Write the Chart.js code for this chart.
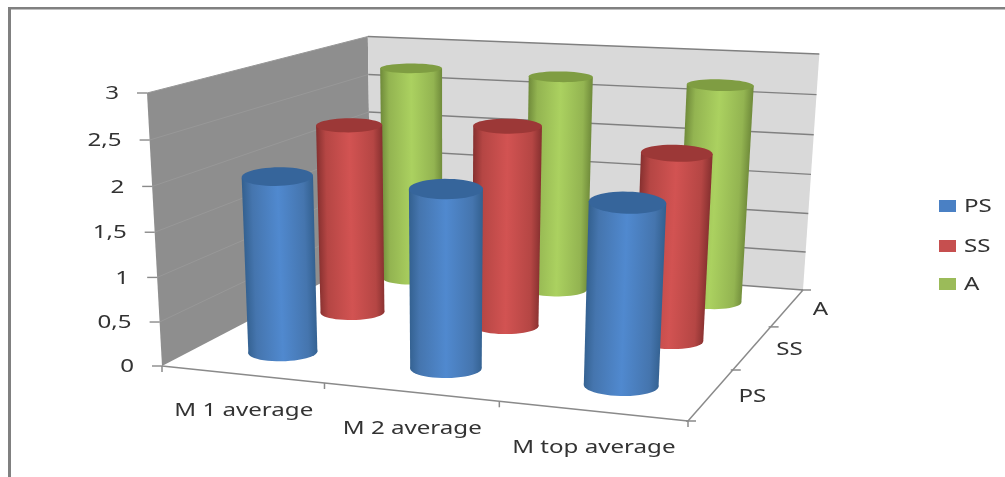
<!DOCTYPE html>
<html>
<head>
<meta charset="utf-8">
<style>
  html, body { margin: 0; padding: 0; background: #fff; }
  canvas { display: block; }
</style>
<script src="https://cdn.jsdelivr.net/npm/chart.js@4/dist/chart.umd.min.js"></script>
</head>
<body>
<canvas id="chart" width="1005" height="477"></canvas>
<script>
const categories = ['M 1 average', 'M 2 average', 'M top average'];
const seriesNames = ['PS', 'SS', 'A'];
const psValues = [2, 2, 2];
const ssValues = [2.27, 2.37, 2.18];
const aValues = [2.72, 2.7, 2.69];
const yMax = 3;
const yStep = 0.5;

// body colours per series: edge, mid, centre, cap
const SHADES = {
  PS: { edge: '#33608f', mid: '#4575ae', light: '#5089cf', cap: '#36659b', key: '#4a80c4' },
  SS: { edge: '#86302f', mid: '#b54644', light: '#d25352', cap: '#9c3837', key: '#c64f4f' },
  A:  { edge: '#6f8a3a', mid: '#93b451', light: '#abd160', cap: '#7f9d42', key: '#9bbb59' }
};

// floor corners on screen, heights of the full value range at each corner
const FLOOR = { x0: 162, y0: 366, x1: 688, y1: 421, x2: 803, y2: 290, x3: 371, y3: 257 };
const WALL_H = { h00: 273, h10: 290, h01: 220.5, h11: 236 };
const TOP_X = 147;
const PERSP_Z = -0.05;
const SAG_Z = 0.04;
const RADIUS = 0.066;
const CAP_OPEN = 1.4;
const U_SHIFT = 0.004;

const LABEL_FONT = '18px "Noto Sans"';
const TEXT_STRETCH = 1.34;
const TEXT_COLOR = '#333333';

function floorMatrix(p) {
  const dx1 = p.x1 - p.x2, dx2 = p.x3 - p.x2, sx = p.x0 - p.x1 + p.x2 - p.x3;
  const dy1 = p.y1 - p.y2, dy2 = p.y3 - p.y2, sy = p.y0 - p.y1 + p.y2 - p.y3;
  const den = dx1 * dy2 - dx2 * dy1;
  const g = (sx * dy2 - dx2 * sy) / den;
  const h = (dx1 * sy - sx * dy1) / den;
  return {
    a: p.x1 - p.x0 + g * p.x1, b: p.x3 - p.x0 + h * p.x3, c: p.x0,
    d: p.y1 - p.y0 + g * p.y1, e: p.y3 - p.y0 + h * p.y3, f: p.y0,
    g, h
  };
}

const M = floorMatrix(FLOOR);
const CX = TOP_X * (1 + PERSP_Z) - FLOOR.x0;

// u runs along the categories, v runs towards the back wall, z is the value fraction
function project(u, v, z) {
  const w = M.g * u + M.h * v + 1;
  const x = (M.a * u + M.b * v + M.c + CX * z) / (w + PERSP_Z * z);
  const fy = (M.d * u + M.e * v + M.f) / w;
  const hgt = (1 - u) * (1 - v) * WALL_H.h00 + u * (1 - v) * WALL_H.h10 +
    (1 - u) * v * WALL_H.h01 + u * v * WALL_H.h11;
  // lower values sit a little closer together on the vertical axis
  return { x, y: fy - z * (1 - SAG_Z * (1 - z)) * hgt };
}

function poly(ctx, pts) {
  ctx.beginPath();
  pts.forEach((p, i) => i ? ctx.lineTo(p.x, p.y) : ctx.moveTo(p.x, p.y));
  ctx.closePath();
}

function seg(ctx, a, b) {
  ctx.beginPath();
  ctx.moveTo(a.x, a.y);
  ctx.lineTo(b.x, b.y);
  ctx.stroke();
}

function stretchedText(ctx, str, x, y, align) {
  ctx.save();
  ctx.translate(x, y);
  ctx.scale(TEXT_STRETCH, 1);
  ctx.font = LABEL_FONT;
  ctx.fillStyle = TEXT_COLOR;
  ctx.textAlign = align;
  ctx.textBaseline = 'middle';
  ctx.fillText(str, 0, 0);
  ctx.restore();
}

// outline of a cylinder end; open > 1 makes the ellipse taller without widening it
function ring(u, v, z, open) {
  const mid = project(u, v, z);
  const pts = [];
  for (let i = 0; i < 48; i++) {
    const t = i / 48 * Math.PI * 2;
    const p = project(u + RADIUS * Math.cos(t), v + RADIUS * Math.sin(t), z);
    pts.push({ x: p.x, y: mid.y + (p.y - mid.y) * open });
  }
  return pts;
}

function drawCylinder(ctx, u, v, z, shade) {
  const bottom = ring(u, v, 0, 1);
  const top = ring(u, v, z, CAP_OPEN);
  const minX = pts => pts.reduce((m, p) => p.x < m.x ? p : m);
  const maxX = pts => pts.reduce((m, p) => p.x > m.x ? p : m);
  const bl = minX(bottom), br = maxX(bottom), tl = minX(top), tr = maxX(top);

  // shading runs across the cylinder, square to its leaning axis
  const ax = (tl.x + tr.x - bl.x - br.x) / 2, ay = (tl.y + tr.y - bl.y - br.y) / 2;
  const len = Math.hypot(ax, ay);
  const nx = -ay / len, ny = ax / len;
  const cx = (bl.x + br.x) / 2, cy = (bl.y + br.y) / 2;
  const half = Math.max(br.x - bl.x, tr.x - tl.x) / 2;
  const grad = ctx.createLinearGradient(cx - nx * half, cy - ny * half, cx + nx * half, cy + ny * half);
  grad.addColorStop(0, shade.edge);
  grad.addColorStop(0.14, shade.mid);
  grad.addColorStop(0.5, shade.light);
  grad.addColorStop(0.86, shade.mid);
  grad.addColorStop(1, shade.edge);

  ctx.fillStyle = grad;
  poly(ctx, bottom);
  ctx.fill();
  poly(ctx, [bl, tl, tr, br]);
  ctx.fill();
  ctx.fillStyle = shade.cap;
  poly(ctx, top);
  ctx.fill();
}

const cylinders3d = {
  id: 'cylinders3d',
  beforeDatasetsDraw(chart) {
    const ctx = chart.ctx;
    const xs = chart.scales.x, ds = chart.scales.depth, ys = chart.scales.y;
    const frac = value => ys.getDecimalForPixel(ys.getPixelForValue(value));
    const uAt = i => xs.getDecimalForPixel(xs.getPixelForValue(i));
    const vAt = j => ds.getDecimalForPixel(ds.getPixelForValue(j));

    ctx.save();

    // outer frame
    ctx.fillStyle = '#808080';
    ctx.fillRect(8, 7, 997, 2.5);
    ctx.fillRect(8, 7, 3, 470);

    // walls
    ctx.fillStyle = '#8e8e8e';
    poly(ctx, [project(0, 0, 0), project(0, 0, 1), project(0, 1, 1), project(0, 1, 0)]);
    ctx.fill();
    ctx.fillStyle = '#d9d9d9';
    poly(ctx, [project(0, 1, 0), project(0, 1, 1), project(1, 1, 1), project(1, 1, 0)]);
    ctx.fill();

    // gridlines, ticks and value labels from the y scale
    ys.ticks.forEach(tick => {
      const z = frac(tick.value);
      const front = project(0, 0, z), corner = project(0, 1, z), right = project(1, 1, z);
      if (z > 0) {
        ctx.strokeStyle = '#989898';
        ctx.lineWidth = 1;
        seg(ctx, front, corner);
      }
      ctx.strokeStyle = '#808080';
      ctx.lineWidth = 1.4;
      seg(ctx, corner, right);
      ctx.strokeStyle = '#8a8a8a';
      seg(ctx, { x: front.x - 10, y: front.y }, front);
      stretchedText(ctx, String(tick.value).replace('.', ','), front.x - 28, front.y + 1, 'right');
    });

    // floor edges
    ctx.strokeStyle = '#8a8a8a';
    ctx.lineWidth = 1.5;
    seg(ctx, project(0, 0, 0), project(1, 0, 0));
    seg(ctx, project(1, 0, 0), project(1, 1, 0));

    // tick marks between categories along the front edge
    for (let i = 0; i <= categories.length; i++) {
      const p = project(i / categories.length, 0, 0);
      seg(ctx, p, { x: p.x, y: p.y + 6 });
    }
    // tick marks between series along the side edge
    for (let j = 0; j <= seriesNames.length; j++) {
      const p = project(1, j / seriesNames.length, 0);
      seg(ctx, { x: p.x - 2, y: p.y }, { x: p.x + 8, y: p.y });
    }

    // back row first so nearer cylinders cover it
    for (let j = chart.data.datasets.length - 1; j >= 0; j--) {
      const set = chart.data.datasets[j];
      set.data.forEach((value, i) => {
        drawCylinder(ctx, uAt(i) + U_SHIFT, vAt(j), frac(value), SHADES[set.label]);
      });
    }

    // category and series labels
    categories.forEach((name, i) => {
      const p = project(uAt(i), 0, 0);
      stretchedText(ctx, name, p.x + 2, p.y + 37, 'center');
    });
    seriesNames.forEach((name, j) => {
      const v = vAt(j);
      const p = project(1, v, 0);
      stretchedText(ctx, name, p.x + 43 - 12 * v, p.y + 2, 'center');
    });

    // legend
    const legendTop = [200, 240, 278];
    chart.data.datasets.forEach((set, j) => {
      ctx.fillStyle = SHADES[set.label].key;
      ctx.fillRect(939, legendTop[j], 17, 12);
      stretchedText(ctx, set.label, 964, legendTop[j] + 6.5, 'left');
    });

    ctx.restore();
    return false;
  }
};

new Chart(document.getElementById('chart'), {
  type: 'bar',
  data: {
    labels: categories,
    datasets: [
      { label: seriesNames[0], data: psValues, backgroundColor: SHADES.PS.key },
      { label: seriesNames[1], data: ssValues, backgroundColor: SHADES.SS.key },
      { label: seriesNames[2], data: aValues, backgroundColor: SHADES.A.key }
    ]
  },
  options: {
    responsive: false,
    animation: false,
    layout: { padding: { left: FLOOR.x0, right: 1005 - FLOOR.x1, top: 93, bottom: 477 - FLOOR.y0 } },
    plugins: { legend: { display: false }, tooltip: { enabled: false } },
    scales: {
      x: { type: 'category', offset: true, display: false },
      depth: { type: 'category', axis: 'x', labels: seriesNames, offset: true, display: false },
      y: { min: 0, max: yMax, display: false, ticks: { stepSize: yStep, autoSkip: false } }
    }
  },
  plugins: [cylinders3d]
});
</script>
</body>
</html>
